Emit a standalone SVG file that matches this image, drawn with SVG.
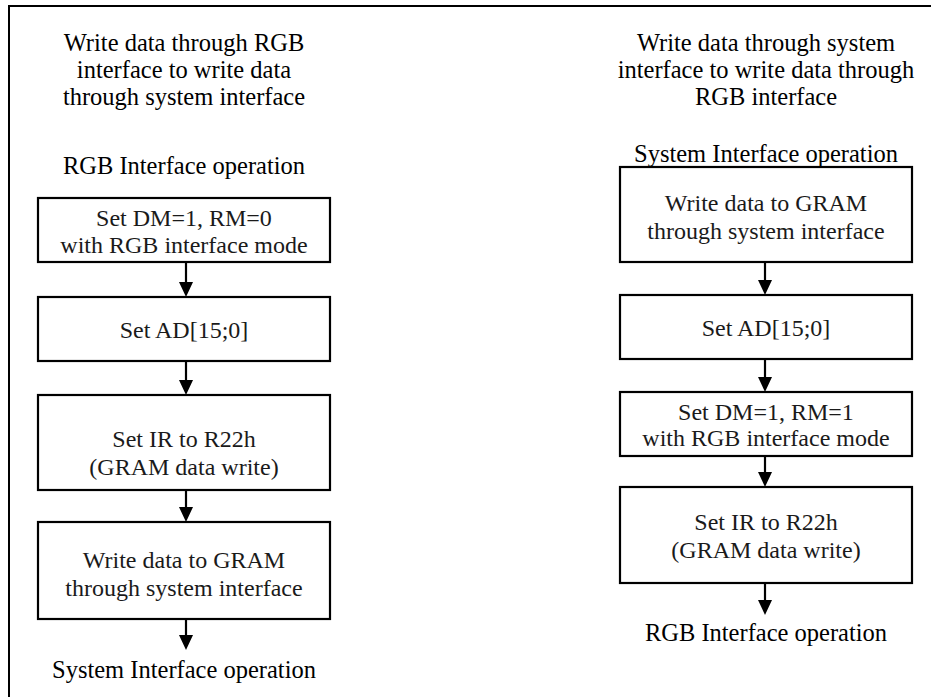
<svg xmlns="http://www.w3.org/2000/svg" width="931" height="697" viewBox="0 0 931 697">
<defs>
<style>
.b{fill:#fff;stroke:#000;stroke-width:2.2}
.c{stroke:#000;stroke-width:2.2;fill:none}
.ah{fill:#000;stroke:none}
</style>
</defs>
<rect width="931" height="697" fill="#fff"/>
<path d="M9,697 V6 H931" fill="none" stroke="#000" stroke-width="2"/>
<g font-family="Liberation Serif, Times New Roman, serif" font-size="24.5" text-anchor="middle" fill="#000">
<g id="title-left">
<text x="184" y="51">Write data through RGB</text>
<text x="184" y="78">interface to write data</text>
<text x="184" y="105">through system interface</text>
</g>
<g id="title-right">
<text x="766" y="51">Write data through system</text>
<text x="766" y="78">interface to write data through</text>
<text x="766" y="105">RGB interface</text>
</g>
<g id="label-left-start"><text x="184" y="174">RGB Interface operation</text></g>
<g id="label-left-end"><text x="184" y="678">System Interface operation</text></g>
<g id="label-right-start"><text x="766" y="162">System Interface operation</text></g>
<g id="label-right-end"><text x="766" y="641">RGB Interface operation</text></g>
</g>
<g font-family="Liberation Serif, Times New Roman, serif" font-size="24" text-anchor="middle" fill="#1a1a1a">
<g id="L1"><rect class="b" x="38" y="198" width="292" height="64"/>
<text x="184" y="226">Set DM=1, RM=0</text><text x="184" y="253">with RGB interface mode</text></g>
<g id="L2"><rect class="b" x="38" y="297" width="292" height="64"/>
<text x="184" y="338">Set AD[15;0]</text></g>
<g id="L3"><rect class="b" x="38" y="395" width="292" height="95"/>
<text x="184" y="447">Set IR to R22h</text><text x="184" y="475">(GRAM data write)</text></g>
<g id="L4"><rect class="b" x="38" y="522" width="292" height="97"/>
<text x="184" y="568">Write data to GRAM</text><text x="184" y="596">through system interface</text></g>
<g id="R1"><rect class="b" x="620" y="167" width="292" height="95"/>
<text x="766" y="211">Write data to GRAM</text><text x="766" y="239">through system interface</text></g>
<g id="R2"><rect class="b" x="620" y="295" width="292" height="64"/>
<text x="766" y="336">Set AD[15;0]</text></g>
<g id="R3"><rect class="b" x="620" y="392" width="292" height="64"/>
<text x="766" y="420">Set DM=1, RM=1</text><text x="766" y="446">with RGB interface mode</text></g>
<g id="R4"><rect class="b" x="620" y="487" width="292" height="96"/>
<text x="766" y="530">Set IR to R22h</text><text x="766" y="558">(GRAM data write)</text></g>
</g>
<g id="connectors">
<path class="c" d="M186,262 V284"/><path class="ah" d="M179,282 H193 L186,297 z"/>
<path class="c" d="M186,361 V382"/><path class="ah" d="M179,380 H193 L186,395 z"/>
<path class="c" d="M186,490 V509"/><path class="ah" d="M179,507 H193 L186,522 z"/>
<path class="c" d="M186,619 V637"/><path class="ah" d="M179,635 H193 L186,650 z"/>
<path class="c" d="M765,262 V282"/><path class="ah" d="M758,280 H772 L765,295 z"/>
<path class="c" d="M765,359 V379"/><path class="ah" d="M758,377 H772 L765,392 z"/>
<path class="c" d="M765,456 V474"/><path class="ah" d="M758,472 H772 L765,487 z"/>
<path class="c" d="M765,583 V602"/><path class="ah" d="M758,600 H772 L765,615 z"/>
</g>
</svg>
